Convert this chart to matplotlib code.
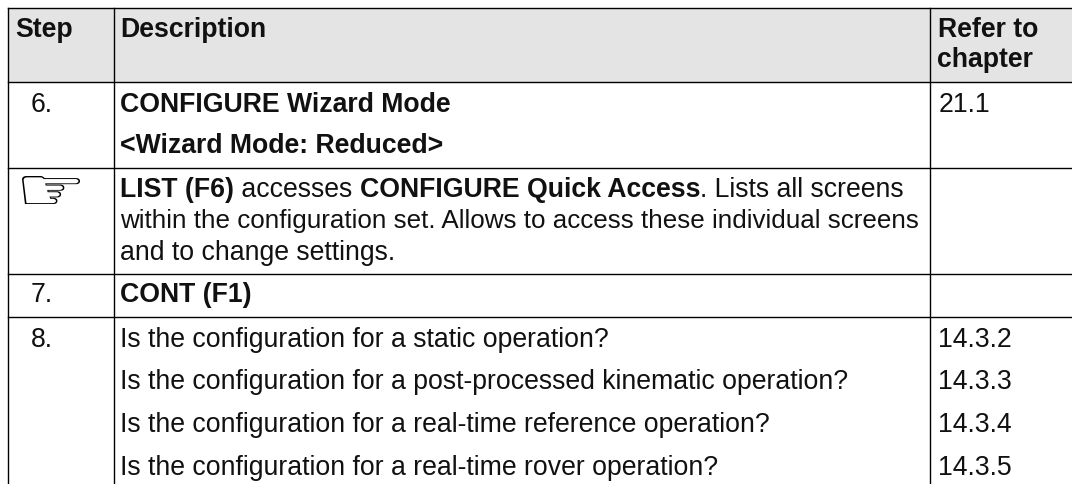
import matplotlib
matplotlib.use('Agg')
import matplotlib.pyplot as plt
from matplotlib.patches import PathPatch
from matplotlib.textpath import TextPath
from matplotlib.font_manager import FontProperties
from matplotlib.transforms import Affine2D

FONT = 'Liberation Sans'
FS = 19.13

# column edges / row edges of the table, in image pixels
col_edges = [8.0, 114.1, 930.1, 1072]
row_edges = [9.3, 82.8, 169.3, 275.3, 318.3, 485]
header_fill = '#e4e4e4'

headers = ['Step', 'Description', 'Refer to', 'chapter']
step_labels = ['6.', '7.', '8.']
step_rows = [112, 302, 347]
refs = ['21.1', '14.3.2', '14.3.3', '14.3.4', '14.3.5']
ref_rows = [112, 347, 389.5, 432, 475]

# each line is a list of (text, bold) runs with its baseline
desc_lines = [
    (112, [('CONFIGURE Wizard Mode', True)]),
    (153, [('<Wizard Mode: Reduced>', True)]),
    (197, [('LIST (F6)', True), (' accesses ', False), ('CONFIGURE Quick Access', True), ('. Lists all screens', False)]),
    (228, [('within the configuration set. Allows to access these individual screens', False)]),
    (260, [('and to change settings.', False)]),
    (302, [('CONT (F1)', True)]),
    (347, [('Is the configuration for a static operation?', False)]),
    (389.5, [('Is the configuration for a post-processed kinematic operation?', False)]),
    (432, [('Is the configuration for a real-time reference operation?', False)]),
    (475, [('Is the configuration for a real-time rover operation?', False)]),
]

fig = plt.figure(figsize=(10.72, 4.85), dpi=100)
ax = fig.add_axes([0, 0, 1, 1])
ax.set_xlim(0, 1072)
ax.set_ylim(485, 0)
ax.axis('off')

ax.fill_between([col_edges[0], col_edges[-1]], row_edges[0], row_edges[1], color=header_fill, lw=0)
for y in row_edges[:-1]:
    ax.plot([col_edges[0], col_edges[-1]], [y, y], color='k', lw=1.0, solid_capstyle='projecting')
for x in col_edges[:-1]:
    ax.plot([x, x], [row_edges[0], row_edges[-1]], color='k', lw=1.0, solid_capstyle='projecting')

def put(x, y, s, bold=False, size=FS):
    return ax.text(x, y, s, fontsize=size, family=FONT, va='baseline', color='#111111',
                   fontweight='bold' if bold else 'normal')

put(15, 37, headers[0], True)
put(120, 37, headers[1], True)
put(937.5, 37, headers[2], True)
put(937.5, 67, headers[3], True)

for s, y in zip(step_labels, step_rows):
    put(31, y, s)
for s, y in zip(refs, ref_rows):
    put(938.5, y, s)

# pointing hand, glyph stretched to the wider shape of the original icon
hand = TextPath((0, 0), '\u261e', size=30, prop=FontProperties(family='DejaVu Sans'))
box = hand.get_extents()
fit = (Affine2D().translate(-box.x0, -box.y0)
       .scale(58 / box.width, -28 / box.height).translate(22, 205))
ax.add_patch(PathPatch(fit.transform_path(hand), fc='k', ec='none'))

fig.canvas.draw()
r = fig.canvas.get_renderer()
for y, runs in desc_lines:
    x = 120
    # this line is set tighter in the original
    size = 18.76 if runs[0][0].startswith('within') else FS
    for s, bold in runs:
        t = put(x, y, s, bold, size)
        x += t.get_window_extent(r).width

fig.savefig('out.png', dpi=100)
